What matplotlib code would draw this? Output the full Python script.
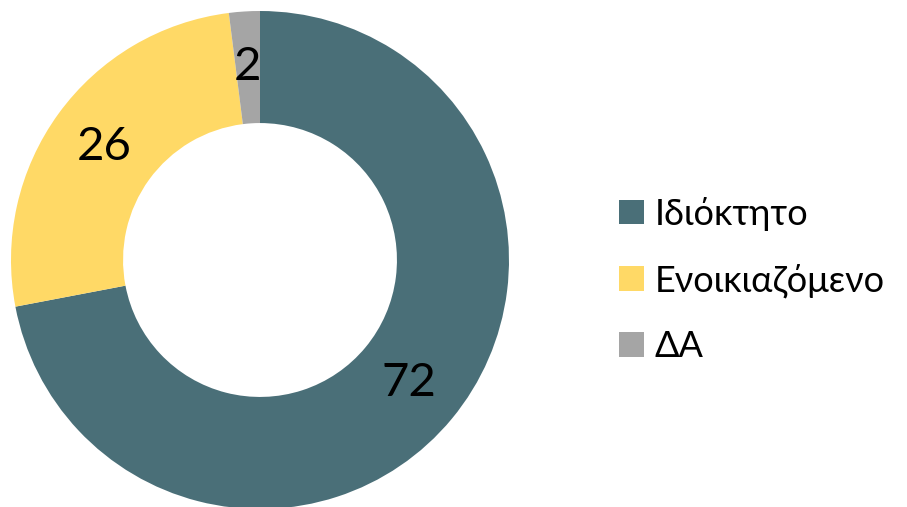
import matplotlib
matplotlib.use("Agg")
import matplotlib.pyplot as plt
from matplotlib.patches import Patch

# data
categories = ["Ιδιόκτητο", "Ενοικιαζόμενο", "ΔΑ"]
values = [72, 26, 2]
colors = ["#4A6F78", "#FFD966", "#A5A5A5"]

plt.rcParams['font.family'] = ['Lato', 'DejaVu Sans']

fig = plt.figure(figsize=(9.07, 5.07), dpi=100)
# pie axes: circle centre ~ (260, 260) px, radius ~249 px
ax = fig.add_axes([11 / 907, -2 / 507, 498 / 907, 498 / 507])

wedges, texts, autotexts = ax.pie(
    values, colors=colors, startangle=90, counterclock=False,
    radius=1.0, wedgeprops=dict(width=0.45, linewidth=0),
    autopct=lambda p: "%d" % round(p), pctdistance=0.775)
for t in autotexts:
    t.set_fontsize(34)
    t.set_color('black')
ax.set_aspect('equal')
ax.set_xlim(-1, 1)
ax.set_ylim(-1, 1)
ax.axis('off')

handles = [Patch(facecolor=c, edgecolor='none') for c in colors]
fig.legend(handles, categories, loc='center left', bbox_to_anchor=(619 / 907, 1 - 280 / 507),
           frameon=False, borderpad=0, borderaxespad=0,
           handlelength=0.68, handleheight=0.68,
           handletextpad=0.3, labelspacing=0.9, prop={'size': 26})

fig.savefig("out.png", dpi=100)
